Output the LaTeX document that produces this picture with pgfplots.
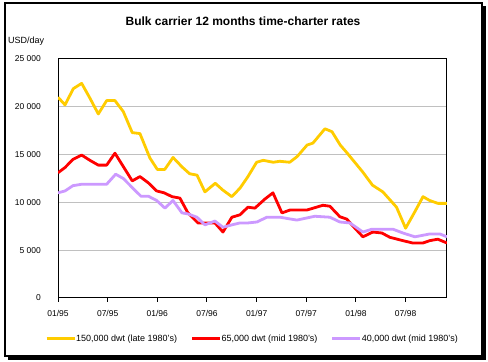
\documentclass[border=0pt]{standalone}
\usepackage{pgfplots}
\pgfplotsset{compat=1.18}
\usepackage{fontspec}
\setmainfont{Liberation Sans}
\definecolor{cyel}{HTML}{FFCC00}
\definecolor{cred}{HTML}{FF0000}
\definecolor{cpur}{HTML}{CC99FF}
\definecolor{cgrid}{HTML}{C0C0C0}
\begin{document}
\begin{tikzpicture}
\useasboundingbox (0,0) rectangle (488bp,362bp);
\fill[white] (0,0) rectangle (488bp,362bp);
\fill[black] (8bp,2bp) rectangle (485.5bp,356bp);
\filldraw[fill=white, draw=black, line width=1.5bp] (5bp,6bp) rectangle (482bp,359bp);
\node[font=\fontsize{12bp}{14bp}\selectfont\bfseries] at (243bp,341bp) {Bulk carrier 12 months time-charter rates};
\node[anchor=west, inner sep=0pt, font=\fontsize{9bp}{11bp}\selectfont] at (8bp,320.5bp) {USD/day};
\begin{axis}[
  at={(58bp,64bp)}, anchor=south west,
  width=389bp, height=239bp, scale only axis,
  xmin=0, xmax=47, ymin=0, ymax=25000,
  axis line style={black, line width=1bp},
  xtick={0,6,12,18,24,30,36,42},
  xticklabels={01/95,07/95,01/96,07/96,01/97,07/97,01/98,07/98},
  ytick={0,5000,10000,15000,20000,25000},
  yticklabels={0,5 000,10 000,15 000,20 000,25 000},
  scaled y ticks=false,
  ymajorgrids, major grid style={cgrid, line width=1bp},
  xtick pos=bottom, ytick pos=left,
  tick align=outside, major tick length=4bp,
  xtick style={black, line width=1bp},
  ytick style={draw=none},
  tick label style={font=\fontsize{8.5bp}{10bp}\selectfont},
  /pgf/number format/assume math mode=true,
  yticklabel style={inner sep=0pt, xshift=-13bp},
  xticklabel style={inner sep=0pt, yshift=-8bp},
  legend columns=3,
  legend style={at={(0.4974,-0.1715)}, anchor=center, draw=none, fill=none,
    inner sep=0pt, font=\fontsize{9bp}{11bp}\selectfont,
    nodes={inner sep=0pt},
    /tikz/every even column/.append style={column sep=13.5bp}},
  legend image code/.code={\draw[#1, line width=3bp] (0bp,0bp) -- (28bp,0bp);},
  every axis plot/.append style={line width=2.8bp, line join=round},
]
\addplot[cyel] coordinates {
(0,21000)(0.85,20200)(1.85,21900)(2.86,22450)(3.86,20900)(4.87,19250)(5.88,20650)(6.88,20650)(7.89,19500)(8.97,17300)(9.9,17200)(11.1,14650)(12.0,13450)(12.9,13450)(13.9,14700)(15.0,13700)(15.9,13000)(16.8,12850)(17.75,11100)(19.0,12000)(19.9,11300)(21.0,10600)(22.0,11500)(22.95,12700)(24.0,14200)(24.8,14400)(26.0,14200)(26.8,14300)(28.0,14200)(28.9,14800)(30.1,16000)(30.8,16200)(32.25,17700)(33.1,17400)(34.1,16000)(34.9,15200)(36.8,13200)(38.0,11800)(39.25,11100)(40.9,9500)(42.0,7300)(43.1,9000)(44.1,10600)(44.9,10200)(45.9,9900)(47,9900)
};
\addlegendentry{150,000 dwt (late 1980's)}
\addplot[cred] coordinates {
(0,13100)(0.85,13650)(1.81,14500)(2.86,14950)(3.86,14400)(4.87,13900)(5.88,13900)(6.88,15150)(7.89,13750)(8.97,12250)(9.9,12700)(10.91,12050)(11.92,11200)(12.84,11000)(13.77,10600)(14.73,10450)(15.7,8900)(16.91,7850)(18.12,7850)(18.96,7850)(19.93,6900)(21.01,8450)(21.98,8700)(22.95,9500)(23.79,9400)(25.0,10350)(25.97,11000)(27.06,8900)(28.02,9200)(30.07,9200)(32.0,9700)(32.85,9600)(34.06,8500)(34.9,8250)(35.87,7300)(36.84,6400)(38.04,6900)(39.13,6800)(40.1,6350)(41.67,6000)(42.87,5750)(44.08,5750)(44.93,6000)(45.89,6150)(47,5750)
};
\addlegendentry{65,000 dwt (mid 1980's)}
\addplot[cpur] coordinates {
(0,11000)(0.85,11200)(1.81,11750)(2.86,11900)(5.88,11900)(6.97,12950)(7.89,12500)(9.09,11450)(10.02,10650)(10.91,10650)(11.92,10200)(12.92,9400)(13.89,10200)(14.98,8900)(15.7,8800)(16.79,8450)(17.75,7650)(18.96,8050)(19.93,7400)(21.01,7650)(21.98,7850)(22.95,7850)(24.03,7950)(25.24,8450)(26.81,8450)(28.86,8150)(31.03,8550)(32.85,8450)(34.06,7950)(35.27,7850)(36.84,6900)(37.92,7200)(40.46,7200)(41.67,6800)(43.12,6400)(44.93,6700)(46.14,6700)(47,6400)
};
\addlegendentry{40,000 dwt (mid 1980's)}
\end{axis}
\end{tikzpicture}
\end{document}
